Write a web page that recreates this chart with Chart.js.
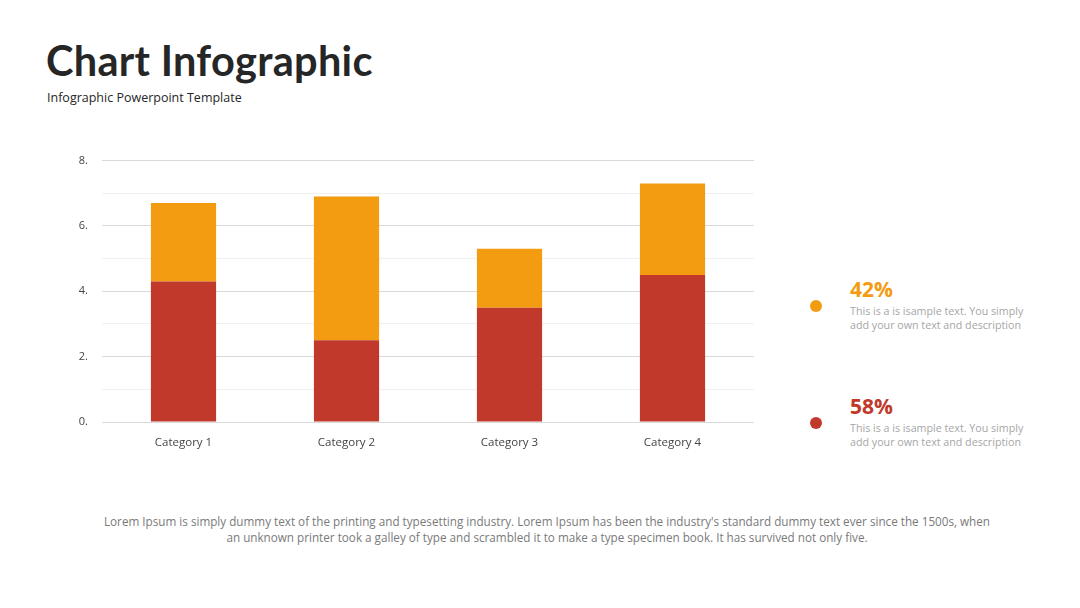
<!DOCTYPE html>
<html>
<head>
<meta charset="utf-8">
<script src="https://cdn.jsdelivr.net/npm/chart.js@4/dist/chart.umd.min.js"></script>
<style>
  body { margin: 0; width: 1080px; height: 608px; background: #fff; position: relative; overflow: hidden; font-family: "Open Sans", sans-serif; }
  h1 { position: absolute; left: 46px; top: 35px; margin: 0; font: bold 41.5px "Lato", sans-serif; color: #262626; letter-spacing: 0.3px; }
  .sub { position: absolute; left: 47px; top: 89px; font: 12.5px "Open Sans", sans-serif; color: #262626; }
  #wrap { position: absolute; left: 0; top: 140px; width: 780px; height: 320px; }
  .dot { position: absolute; width: 12px; height: 12px; border-radius: 50%; }
  .pct { position: absolute; left: 850px; font: bold 21px "Open Sans", sans-serif; }
  .desc { position: absolute; left: 850px; font: 10.7px "Open Sans", sans-serif; color: #a6a6a6; line-height: 14px; }
  .foot { position: absolute; left: 0; width: 1094px; top: 513px; text-align: center; font: 11.7px "Open Sans", sans-serif; color: #7a7a7a; line-height: 16px; }
</style>
</head>
<body>
<h1>Chart Infographic</h1>
<div class="sub">Infographic Powerpoint Template</div>
<div id="wrap"><canvas id="myChart"></canvas></div>

<div class="dot" style="left:810px;top:300px;background:#f39c12"></div>
<div class="pct" style="top:275px;color:#f39c12">42%</div>
<div class="desc" style="top:304px">This is a is isample text. You simply<br>add your own text and description</div>

<div class="dot" style="left:810px;top:417px;background:#c0392b"></div>
<div class="pct" style="top:392px;color:#c0392b">58%</div>
<div class="desc" style="top:421px">This is a is isample text. You simply<br>add your own text and description</div>

<div class="foot">Lorem Ipsum is simply dummy text of the printing and typesetting industry. Lorem Ipsum has been the industry's standard dummy text ever since the 1500s, when<br>an unknown printer took a galley of type and scrambled it to make a type specimen book. It has survived not only five.</div>

<script>
const categories = ["Category 1", "Category 2", "Category 3", "Category 4"];
const seriesRed = [4.3, 2.5, 3.5, 4.5];
const seriesOrange = [2.4, 4.4, 1.8, 2.8];
const yTicks = [0, 2, 4, 6, 8];

const ctx = document.getElementById('myChart').getContext('2d');
const myChart = new Chart(ctx, {
    type: 'bar',
    data: {
        labels: categories,
        datasets: [{
            label: 'Series 1',
            data: seriesRed,
            backgroundColor: '#c0392b',
            barPercentage: 0.4,
            categoryPercentage: 1
        }, {
            label: 'Series 2',
            data: seriesOrange,
            backgroundColor: '#f39c12',
            barPercentage: 0.4,
            categoryPercentage: 1
        }]
    },
    options: {
        responsive: true,
        maintainAspectRatio: false,
        animation: false,
        layout: { padding: { top: 19, right: 26, bottom: 0, left: 0 } },
        plugins: { legend: { display: false }, tooltip: { enabled: false } },
        scales: {
            x: {
                stacked: true,
                grid: { display: false },
                border: { display: false },
                ticks: { color: '#444', font: { family: 'Open Sans', size: 11.5 }, padding: 6 },
                afterFit: (s) => { s.height = 38; }
            },
            y: {
                stacked: true,
                min: 0,
                max: 8,
                border: { display: false },
                grid: {
                    color: (c) => yTicks.includes(c.tick.value) ? '#d9d9d9' : '#f0f0f0',
                    drawTicks: false
                },
                ticks: {
                    stepSize: 1,
                    color: '#444',
                    padding: 14,
                    font: { family: 'Open Sans', size: 11 },
                    callback: (v) => yTicks.includes(v) ? v + '.' : ''
                },
                afterFit: (s) => { s.width = 102; }
            }
        }
    }
});
</script>
</body>
</html>
